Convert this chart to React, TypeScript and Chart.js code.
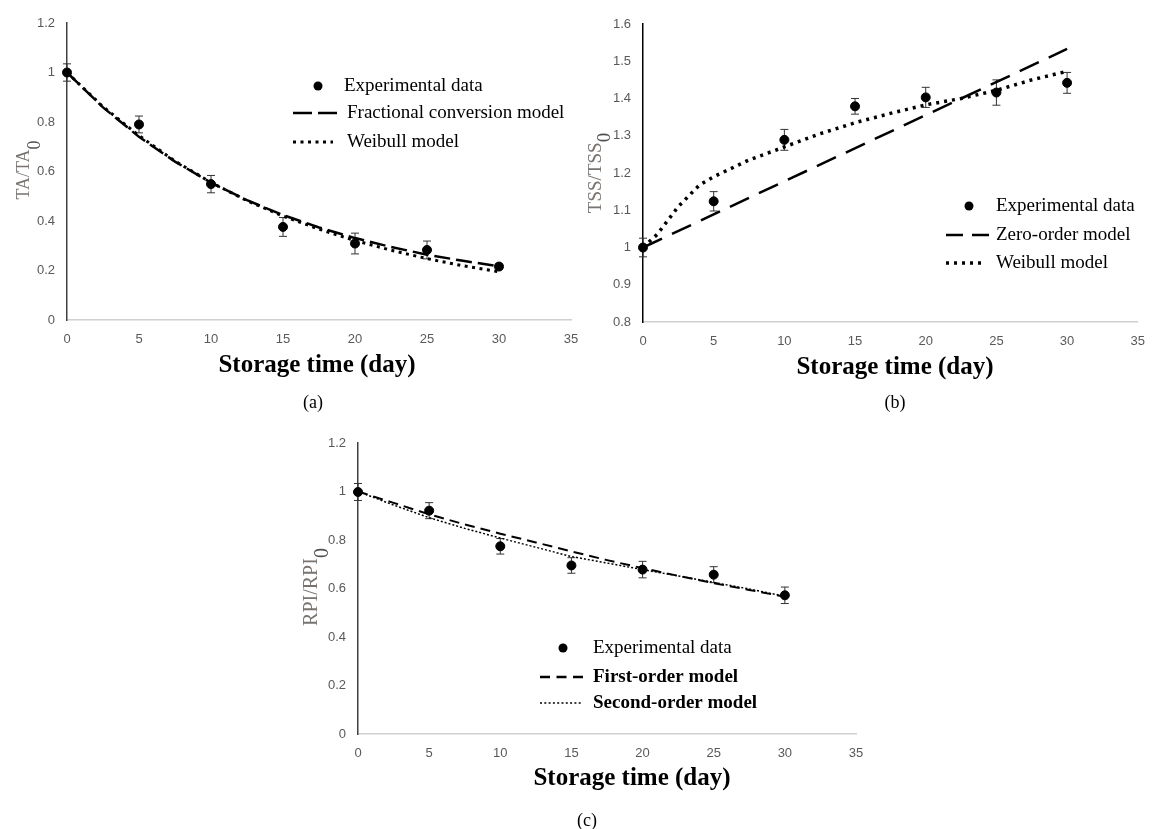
import React, { useEffect, useRef } from 'react';
import { Chart, registerables } from 'chart.js';

Chart.register(...registerables);

// ---------- data ----------
const days = [0, 5, 10, 15, 20, 25, 30];
const modelDays = [0, 2.5, 5, 7.5, 10, 12.5, 15, 17.5, 20, 22.5, 25, 27.5, 30];

// (a) titratable acidity
const taExp = [1.0, 0.79, 0.549, 0.376, 0.309, 0.283, 0.216];
const taErr = [0.035, 0.034, 0.035, 0.038, 0.042, 0.036, 0.01];
const taFractional = [1.0, 0.859, 0.74, 0.64, 0.555, 0.484, 0.424, 0.374, 0.331, 0.295, 0.264, 0.239, 0.217];
const taWeibull = [1.0, 0.862, 0.745, 0.642, 0.556, 0.482, 0.42, 0.367, 0.321, 0.282, 0.248, 0.219, 0.195];

// (b) total soluble solids
const tssExp = [1.0, 1.124, 1.289, 1.379, 1.403, 1.416, 1.442];
const tssErr = [0.025, 0.026, 0.028, 0.021, 0.027, 0.034, 0.028];
const tssZeroDays = [0, 30];
const tssZeroOrder = [1.0, 1.533];
const tssWeibullDays = [0, 1, 2.5, 4, 5, 7.5, 10, 12.5, 15, 17.5, 20, 22.5, 25, 27.5, 30];
const tssWeibull = [1.0, 1.035, 1.11, 1.168, 1.19, 1.235, 1.27, 1.305, 1.335, 1.36, 1.383, 1.4, 1.422, 1.45, 1.473];

// (c) RPI
const rpiExp = [0.998, 0.921, 0.774, 0.695, 0.678, 0.657, 0.572];
const rpiErr = [0.035, 0.033, 0.032, 0.032, 0.034, 0.033, 0.034];
const rpiFirstOrder = [1.0, 0.953, 0.906, 0.864, 0.826, 0.79, 0.753, 0.717, 0.684, 0.652, 0.622, 0.594, 0.566];
const rpiSecondOrder = [1.0, 0.944, 0.892, 0.848, 0.808, 0.77, 0.732, 0.705, 0.678, 0.652, 0.625, 0.598, 0.568];

const xTitleText = 'Storage time (day)';

// ---------- helpers ----------
const pts = (xs: number[], ys: number[]) => xs.map((x, i) => ({ x, y: ys[i] }));
const SERIF = '"Liberation Serif", "Times New Roman", serif';
const TICKFONT = '"Liberation Sans", Arial, sans-serif';

type LegendItem = { kind: 'point' | 'line'; x1: number; x2?: number; y: number; text: string; tx: number; bold?: boolean; dash?: number[]; lw?: number };
type Spec = {
  left: number; top: number; width: number; height: number;
  area: { left: number; right: number; top: number; bottom: number };
  yMin: number; yMax: number; yStep: number; yAxisColor: string;
  yTitle: { main: string; sub: string; x: number; cy: number; shift: number; size: number };
  xTitle: { cx: number; cy: number };
  caption: { text: string; cx: number; cy: number };
  exp: number[]; err: number[];
  lines: { label: string; xs: number[]; ys: number[]; dash: number[]; width: number }[];
  legend: LegendItem[];
};

const specs: Spec[] = [
  {
    left: 0, top: 0, width: 600, height: 420,
    area: { left: 67, right: 571, top: 23, bottom: 320 },
    yMin: 0, yMax: 1.2, yStep: 0.2, yAxisColor: '#404040',
    yTitle: { main: 'TA/TA', sub: '0', x: 29, cy: 170, shift: 11, size: 18 },
    xTitle: { cx: 317, cy: 366 },
    caption: { text: '(a)', cx: 313, cy: 403 },
    exp: taExp, err: taErr,
    lines: [
      { label: 'Fractional conversion model', xs: modelDays, ys: taFractional, dash: [16, 6], width: 2.5 },
      { label: 'Weibull model', xs: modelDays, ys: taWeibull, dash: [3, 4.5], width: 3 },
    ],
    legend: [
      { kind: 'point', x1: 318, y: 86, text: 'Experimental data', tx: 344 },
      { kind: 'line', x1: 293, x2: 338, y: 113, text: 'Fractional conversion model', tx: 347, dash: [19, 6], lw: 2.5 },
      { kind: 'line', x1: 293, x2: 333, y: 142, text: 'Weibull model', tx: 347, dash: [3, 4.5], lw: 3 },
    ],
  },
  {
    left: 580, top: 0, width: 577, height: 420,
    area: { left: 63, right: 570, top: 24, bottom: 322 },
    yMin: 0.8, yMax: 1.6, yStep: 0.1, yAxisColor: '#000000',
    yTitle: { main: 'TSS/TSS', sub: '0', x: 21, cy: 173, shift: 9, size: 19 },
    xTitle: { cx: 315, cy: 368 },
    caption: { text: '(b)', cx: 315, cy: 403 },
    exp: tssExp, err: tssErr,
    lines: [
      { label: 'Zero-order model', xs: tssZeroDays, ys: tssZeroOrder, dash: [21, 11], width: 2.5 },
      { label: 'Weibull model', xs: tssWeibullDays, ys: tssWeibull, dash: [3, 5], width: 3.5 },
    ],
    legend: [
      { kind: 'point', x1: 389, y: 206, text: 'Experimental data', tx: 416 },
      { kind: 'line', x1: 366, x2: 409, y: 235, text: 'Zero-order model', tx: 416, dash: [17, 9], lw: 2.5 },
      { kind: 'line', x1: 366, x2: 406, y: 263, text: 'Weibull model', tx: 416, dash: [3, 5], lw: 3.5 },
    ],
  },
  {
    left: 290, top: 400, width: 600, height: 429,
    area: { left: 68, right: 566, top: 43, bottom: 334 },
    yMin: 0, yMax: 1.2, yStep: 0.2, yAxisColor: '#404040',
    yTitle: { main: 'RPI/RPI', sub: '0', x: 27, cy: 187, shift: 11, size: 20 },
    xTitle: { cx: 342, cy: 379 },
    caption: { text: '(c)', cx: 297, cy: 421 },
    exp: rpiExp, err: rpiErr,
    lines: [
      { label: 'First-order model', xs: modelDays, ys: rpiFirstOrder, dash: [10, 6], width: 2 },
      { label: 'Second-order model', xs: modelDays, ys: rpiSecondOrder, dash: [2, 2], width: 1.5 },
    ],
    legend: [
      { kind: 'point', x1: 273, y: 248, text: 'Experimental data', tx: 303 },
      { kind: 'line', x1: 250, x2: 293, y: 277, text: 'First-order model', tx: 303, bold: true, dash: [10, 6.5], lw: 2.5 },
      { kind: 'line', x1: 250, x2: 293, y: 303, text: 'Second-order model', tx: 303, bold: true, dash: [2, 2.3], lw: 1.5 },
    ],
  },
];

const fmt = (v: number | string) => String(parseFloat(Number(v).toFixed(1)));

function overlayPlugin(spec: Spec) {
  return {
    id: 'overlay',
    beforeDatasetsDraw(chart: any) {
      const { ctx, scales } = chart;
      ctx.save();
      ctx.strokeStyle = '#333333';
      ctx.lineWidth = 1;
      spec.exp.forEach((v, i) => {
        const x = scales.x.getPixelForValue(days[i]);
        const y1 = scales.y.getPixelForValue(v + spec.err[i]);
        const y2 = scales.y.getPixelForValue(v - spec.err[i]);
        ctx.beginPath();
        ctx.moveTo(x, y1); ctx.lineTo(x, y2);
        ctx.moveTo(x - 4, y1); ctx.lineTo(x + 4, y1);
        ctx.moveTo(x - 4, y2); ctx.lineTo(x + 4, y2);
        ctx.stroke();
      });
      ctx.restore();
    },
    afterDraw(chart: any) {
      const ctx = chart.ctx as CanvasRenderingContext2D;
      ctx.save();
      // y title with subscript
      const t = spec.yTitle;
      ctx.translate(t.x, t.cy);
      ctx.rotate(-Math.PI / 2);
      ctx.font = `${t.size}px ${SERIF}`;
      const wm = ctx.measureText(t.main).width;
      const ws = ctx.measureText(t.sub).width;
      const start = -(wm + ws) / 2;
      ctx.textAlign = 'left';
      ctx.textBaseline = 'alphabetic';
      ctx.fillStyle = '#7a7470';
      ctx.fillText(t.main, start, 0);
      ctx.fillStyle = '#505050';
      ctx.fillText(t.sub, start + wm, t.shift);
      ctx.restore();

      ctx.save();
      // x title
      ctx.font = `bold 25px ${SERIF}`;
      ctx.fillStyle = '#000';
      ctx.textAlign = 'center';
      ctx.textBaseline = 'middle';
      ctx.fillText(xTitleText, spec.xTitle.cx, spec.xTitle.cy);
      // caption
      ctx.font = `18px ${SERIF}`;
      ctx.fillText(spec.caption.text, spec.caption.cx, spec.caption.cy);

      // legend
      spec.legend.forEach((it) => {
        ctx.fillStyle = '#000';
        ctx.strokeStyle = '#000';
        if (it.kind === 'point') {
          ctx.beginPath();
          ctx.arc(it.x1, it.y, 4.5, 0, Math.PI * 2);
          ctx.fill();
        } else {
          ctx.beginPath();
          ctx.setLineDash(it.dash || []);
          ctx.lineWidth = it.lw || 2;
          ctx.moveTo(it.x1, it.y);
          ctx.lineTo(it.x2 || it.x1, it.y);
          ctx.stroke();
          ctx.setLineDash([]);
        }
        ctx.font = `${it.bold ? 'bold ' : ''}19px ${SERIF}`;
        ctx.textAlign = 'left';
        ctx.textBaseline = 'middle';
        ctx.fillText(it.text, it.tx, it.y);
      });
      ctx.restore();
    },
  };
}

function Panel({ spec }: { spec: Spec }) {
  const ref = useRef<HTMLCanvasElement | null>(null);
  useEffect(() => {
    if (!ref.current) return;
    const datasets: any[] = [
      {
        label: 'Experimental data',
        data: pts(days, spec.exp),
        showLine: false,
        pointRadius: 4.5,
        pointBackgroundColor: '#000',
        pointBorderColor: '#000',
        pointBorderWidth: 1,
        clip: false,
      },
      ...spec.lines.map((l) => ({
        label: l.label,
        data: pts(l.xs, l.ys),
        showLine: true,
        pointRadius: 0,
        borderColor: '#000',
        borderWidth: l.width,
        borderDash: l.dash,
        tension: 0,
        fill: false,
        clip: false,
      })),
    ];
    const tickFont = { family: TICKFONT, size: 13 };
    const chart = new Chart(ref.current, {
      type: 'scatter',
      data: { datasets },
      options: {
        responsive: false,
        animation: false,
        devicePixelRatio: 1,
        layout: { padding: { left: 0, top: spec.area.top, right: spec.width - spec.area.right, bottom: 0 } },
        plugins: { legend: { display: false }, tooltip: { enabled: false } },
        scales: {
          x: {
            type: 'linear',
            min: 0,
            max: 35,
            afterFit: (s: any) => { s.height = spec.height - spec.area.bottom; },
            ticks: { stepSize: 5, padding: 12, color: '#595959', font: tickFont, maxRotation: 0 },
            grid: { display: false, drawTicks: false },
            border: { display: true, color: '#d0d0d0', width: 1.5 },
          },
          y: {
            type: 'linear',
            min: spec.yMin,
            max: spec.yMax,
            afterFit: (s: any) => { s.width = spec.area.left; },
            ticks: { stepSize: spec.yStep, padding: 12, color: '#595959', font: tickFont, callback: (v: any) => fmt(v) },
            grid: { display: false, drawTicks: false },
            border: { display: true, color: spec.yAxisColor, width: 1.5 },
          },
        },
      } as any,
      plugins: [overlayPlugin(spec) as any],
    });
    return () => chart.destroy();
  }, [spec]);
  return (
    <canvas
      ref={ref}
      width={spec.width}
      height={spec.height}
      style={{ position: 'absolute', left: spec.left, top: spec.top, width: spec.width, height: spec.height }}
    />
  );
}

export default function App() {
  return (
    <div style={{ position: 'absolute', left: 0, top: 0, width: 1157, height: 829, background: '#fff', overflow: 'hidden' }}>
      {specs.map((s, i) => (
        <Panel key={i} spec={s} />
      ))}
    </div>
  );
}
